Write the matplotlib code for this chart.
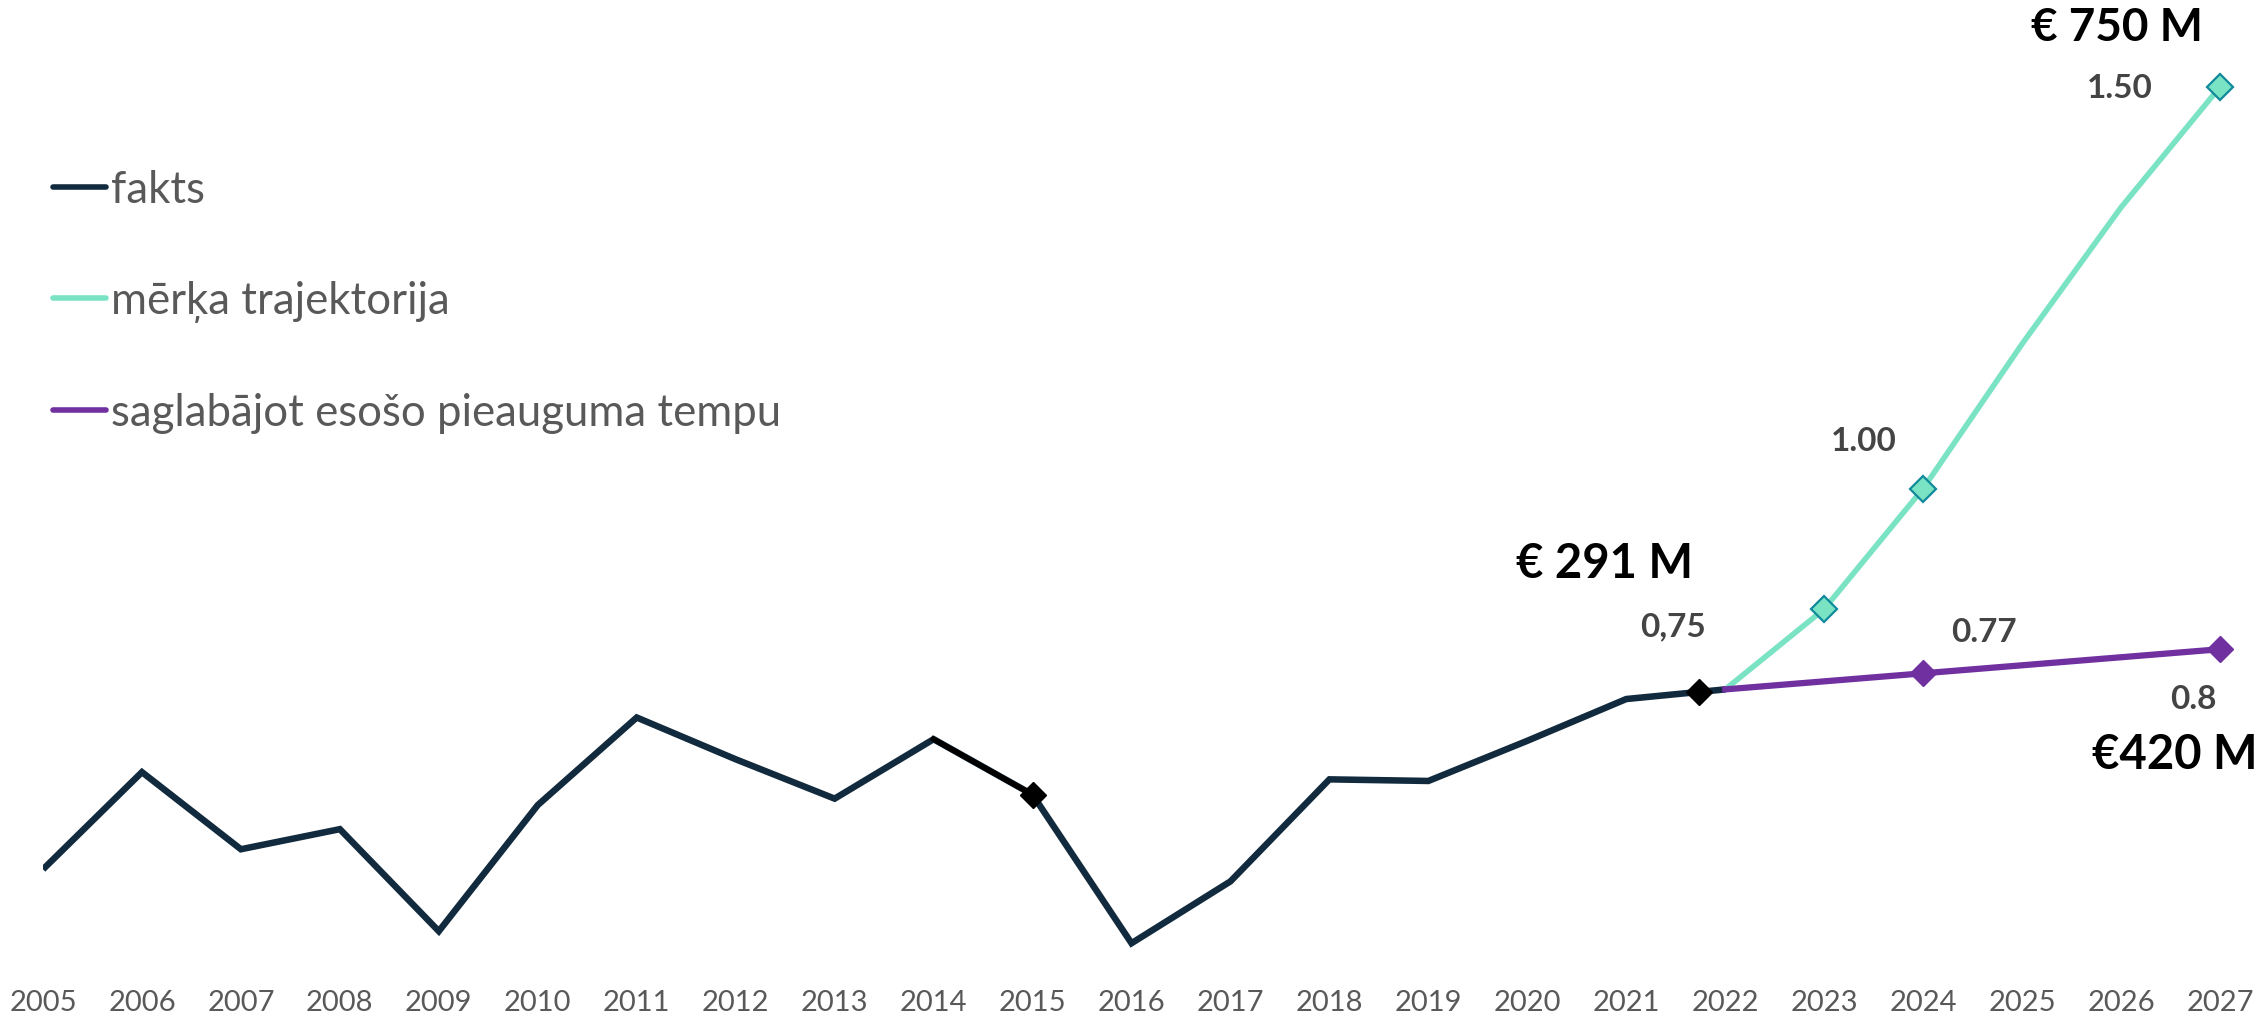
import matplotlib
matplotlib.use("Agg")
import matplotlib.pyplot as plt

plt.rcParams['font.family'] = ['Lato', 'DejaVu Sans']

# -------------------------
# Data
# -------------------------
years_fakts = [2005, 2006, 2007, 2008, 2009, 2010, 2011, 2012, 2013, 2014, 2015,
               2016, 2017, 2018, 2019, 2020, 2021, 2022]
fakts = [0.526, 0.647, 0.551, 0.576, 0.449, 0.606, 0.715, 0.663, 0.614, 0.688, 0.619,
         0.434, 0.511, 0.638, 0.636, 0.686, 0.738, 0.75]

# highlighted fakts points (black diamonds)
hl_years = [2015, 2021.74]
hl_vals = [0.619, 0.747]

years_target = [2022, 2023, 2024, 2025, 2026, 2027]
target = [0.75, 0.85, 1.00, 1.18, 1.35, 1.50]

years_trend = [2022, 2024, 2027]
trend = [0.75, 0.77, 0.80]

tick_years = list(range(2005, 2028))

navy = '#112a3d'
teal = '#7ae3c3'
teal_edge = '#11899c'
purple = '#7030a0'
grey = '#444444'

# -------------------------
# Figure
# -------------------------
fig = plt.figure(figsize=(22.65, 10.2), dpi=100)
ax = fig.add_axes([43 / 2265, 0.0475, 2177 / 2265, 0.9451])

ax.plot(years_fakts, fakts, color=navy, lw=4.7, solid_joinstyle='miter',
        solid_capstyle='butt', label='fakts', zorder=3)
ax.plot(years_fakts[9:11], fakts[9:11], color='black', lw=4.0, zorder=4)
ax.plot(hl_years, hl_vals, 'D', color='black', ms=13, zorder=5, ls='none', clip_on=False)

ax.plot(years_target, target, color=teal, lw=4.0, label='mērķa trajektorija', zorder=2)
ax.plot(years_target[1:3] + years_target[-1:], target[1:3] + target[-1:], 'D', ls='none',
        ms=13.5, mfc=teal, mec=teal_edge, mew=1.6, zorder=5, clip_on=False)

ax.plot(years_trend, trend, color=purple, lw=4.5, label='saglabājot esošo pieauguma tempu', zorder=3)
ax.plot(years_trend[1:], trend[1:], 'D', ls='none', ms=13, color=purple, zorder=5, clip_on=False)

# value labels
def lab(x, y, s, dx, dy, size=24, color=grey):
    ax.annotate(s, (x, y), xytext=(dx * 0.72, dy * 0.72), textcoords='offset points',
                ha='center', va='center', fontsize=size, fontweight='bold', color=color,
                annotation_clip=False)

lab(hl_years[1], hl_vals[1], '0,75', -26, 66)
lab(hl_years[1], hl_vals[1], '€ 291 M', -95, 129, size=34, color='black')
lab(years_target[2], target[2], '1.00', -59, 48)
lab(years_target[-1], target[-1], '1.50', -100, -1)
lab(years_target[-1], target[-1], '€ 750 M', -103, 60, size=33, color='black')
lab(years_trend[1], trend[1], '0.77', 61, 42)
lab(years_trend[-1], trend[-1], '0.8', -27, -49)
lab(years_trend[-1], trend[-1], '€420 M', -45, -105, size=34, color='black')

ax.set_xlim(2005, 2027)
ax.set_ylim(0.40, 1.60)
ax.set_xticks(tick_years)
ax.set_xticklabels([str(y) for y in tick_years])
ax.tick_params(axis='x', length=0, pad=13, labelsize=21, labelcolor='#595959')
ax.set_yticks([])
for sp in ax.spines.values():
    sp.set_visible(False)

leg = ax.legend(loc='center left', bbox_to_anchor=(53 / 2265, 1 - 302 / 1020),
                bbox_transform=fig.transFigure, frameon=False, fontsize=31.5,
                handlelength=1.2, handletextpad=0.12, labelspacing=1.6,
                borderpad=0, borderaxespad=0)
for t in leg.get_texts():
    t.set_color('#595959')
for h in leg.get_lines():
    h.set_linewidth(4)
    h.set_solid_capstyle('round')

fig.savefig('out.png', dpi=100)
